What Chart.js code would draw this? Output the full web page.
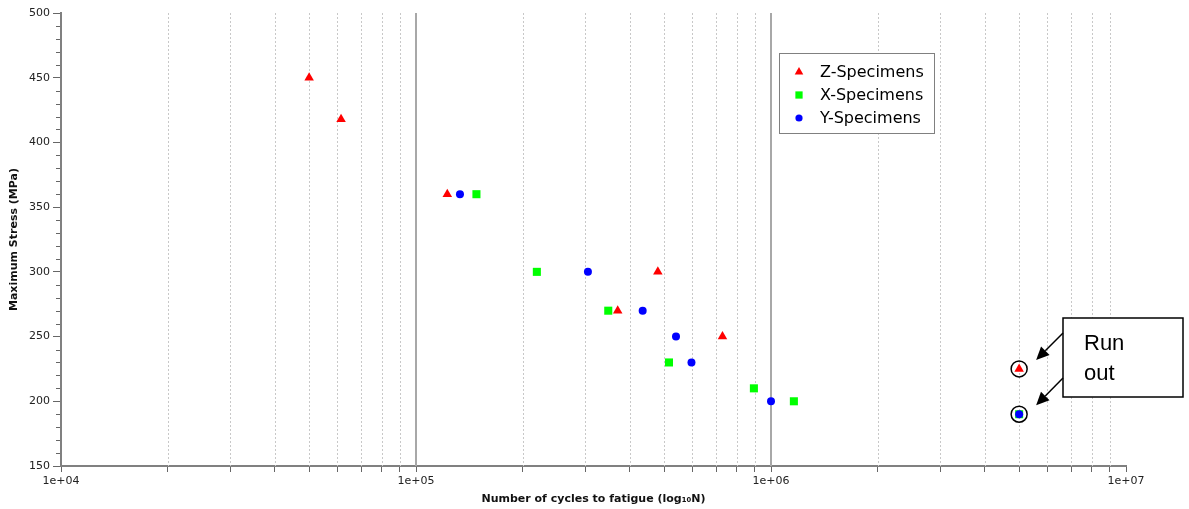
<!DOCTYPE html>
<html>
<head>
<meta charset="utf-8">
<script src="https://cdn.jsdelivr.net/npm/chart.js@4.4.0/dist/chart.umd.min.js"></script>
<style>
  html, body { margin: 0; padding: 0; background: #fff; }
</style>
</head>
<body>
<canvas id="chart" width="1189" height="509"></canvas>
<script>
// cycles to failure (N) and max stress (MPa) for each specimen direction
const zCycles = [5.0e4, 6.15e4, 1.225e5, 4.8e5, 3.7e5, 7.3e5, 5.0e6];
const zStress = [450, 418, 360, 300, 270, 250, 225];
const xCycles = [1.48e5, 2.19e5, 3.48e5, 5.16e5, 8.95e5, 1.16e6, 5.0e6];
const xStress = [360, 300, 270, 230, 210, 200, 190];
const yCycles = [1.33e5, 3.05e5, 4.35e5, 5.4e5, 5.97e5, 1.0e6, 5.0e6];
const yStress = [360, 300, 270, 250, 230, 200, 190];

// run-out specimens (circled)
const runOutCycles = [5.0e6, 5.0e6];
const runOutStress = [225, 190];

const seriesNames = ['Z-Specimens', 'X-Specimens', 'Y-Specimens'];
const decades = [1e4, 1e5, 1e6, 1e7];
const decadeLabels = ['1e+04', '1e+05', '1e+06', '1e+07'];
const minorSteps = [2, 3, 4, 5, 6, 7, 8, 9];
const runOutText = ['Run', 'out'];

const toPoints = (xs, ys) => xs.map((x, i) => ({ x: x, y: ys[i] }));

const xTicks = [];
decades.forEach((d, i) => {
  xTicks.push(d);
  if (i < decades.length - 1) minorSteps.forEach(m => xTicks.push(d * m));
});

const FONT = 'DejaVu Sans';

// vertical grid (dotted minors, solid decades) + short minor ticks on y
const gridPlugin = {
  id: 'sheetGrid',
  beforeDatasetsDraw(chart) {
    const { ctx, chartArea: a, scales: { x, y } } = chart;
    ctx.save();
    xTicks.forEach(v => {
      if (v === decades[0] || v === decades[decades.length - 1]) return;
      const px = Math.round(x.getPixelForValue(v));
      ctx.beginPath();
      if (decades.includes(v)) {
        ctx.strokeStyle = '#a8a8a8';
        ctx.lineWidth = 2;
        ctx.setLineDash([]);
        ctx.moveTo(px, a.top);
        ctx.lineTo(px, a.bottom);
      } else {
        ctx.strokeStyle = '#c8c8c8';
        ctx.lineWidth = 1;
        ctx.setLineDash([2, 2]);
        ctx.moveTo(px + 0.5, a.top);
        ctx.lineTo(px + 0.5, a.bottom);
      }
      ctx.stroke();
    });
    ctx.setLineDash([]);
    ctx.strokeStyle = '#666';
    ctx.lineWidth = 1;
    ctx.beginPath();
    y.ticks.forEach(t => {
      if (t.value % 50 !== 0) {
        const py = Math.round(y.getPixelForValue(t.value)) + 0.5;
        ctx.moveTo(a.left - 5, py);
        ctx.lineTo(a.left - 1, py);
      }
    });
    ctx.stroke();
    ctx.restore();
  }
};

function arrow(ctx, x1, y1, x2, y2) {
  const ang = Math.atan2(y2 - y1, x2 - x1);
  const len = 13, half = 6;
  const bx = x2 - Math.cos(ang) * len, by = y2 - Math.sin(ang) * len;
  ctx.beginPath();
  ctx.moveTo(x1, y1);
  ctx.lineTo(bx, by);
  ctx.stroke();
  ctx.beginPath();
  ctx.moveTo(x2, y2);
  ctx.lineTo(bx + Math.sin(ang) * half, by - Math.cos(ang) * half);
  ctx.lineTo(bx - Math.sin(ang) * half, by + Math.cos(ang) * half);
  ctx.closePath();
  ctx.fill();
}

// legend box inside the plot + "Run out" callout
const overlayPlugin = {
  id: 'overlay',
  afterDraw(chart) {
    const { ctx, scales: { x, y } } = chart;
    ctx.save();

    // legend
    const lg = { left: 779, top: 53, w: 155, h: 80 };
    ctx.fillStyle = '#fff';
    ctx.fillRect(lg.left, lg.top, lg.w, lg.h);
    ctx.strokeStyle = '#808080';
    ctx.lineWidth = 1;
    ctx.strokeRect(lg.left + 0.5, lg.top + 0.5, lg.w, lg.h);
    ctx.font = '16px ' + FONT;
    ctx.textBaseline = 'middle';
    for (let i = 0; i < seriesNames.length; i++) {
      const ds = chart.data.datasets[i];
      const rowY = lg.top + 19 + i * 23;
      ctx.fillStyle = ds.backgroundColor;
      Chart.helpers.drawPoint(ctx, { pointStyle: ds.pointStyle, radius: ds.pointRadius * 0.9, rotation: 0, borderWidth: 0 }, lg.left + 20, rowY);
      ctx.fillStyle = '#000';
      ctx.fillText(ds.label, lg.left + 41, rowY + 1);
    }

    // run-out callout
    const box = { left: 1063, top: 318, w: 120, h: 79 };
    ctx.fillStyle = '#fff';
    ctx.fillRect(box.left, box.top, box.w, box.h);
    ctx.strokeStyle = '#000';
    ctx.lineWidth = 1.5;
    ctx.strokeRect(box.left, box.top, box.w, box.h);
    ctx.fillStyle = '#000';
    ctx.font = '22px "Liberation Sans"';
    ctx.textBaseline = 'alphabetic';
    ctx.fillText(runOutText[0], box.left + 21, box.top + 32);
    ctx.fillText(runOutText[1], box.left + 21, box.top + 62);

    ctx.lineWidth = 1.5;
    runOutCycles.forEach((c, i) => {
      const px = x.getPixelForValue(c), py = y.getPixelForValue(runOutStress[i]);
      arrow(ctx, box.left, box.top + 15 + i * 45, px + 17, py - 9);
    });
    ctx.restore();
  }
};

new Chart(document.getElementById('chart'), {
  type: 'scatter',
  data: {
    datasets: [
      { label: seriesNames[0], data: toPoints(zCycles, zStress), pointStyle: 'triangle', pointRadius: 5.5,
        backgroundColor: '#ff0000', borderColor: '#ff0000', borderWidth: 0, order: 2 },
      { label: seriesNames[1], data: toPoints(xCycles, xStress), pointStyle: 'rect', pointRadius: 5.7,
        backgroundColor: '#00ff00', borderColor: '#00ff00', borderWidth: 0, order: 1 },
      { label: seriesNames[2], data: toPoints(yCycles, yStress), pointStyle: 'circle', pointRadius: 4,
        backgroundColor: '#0000ff', borderColor: '#0000ff', borderWidth: 0, order: 0 },
      { label: 'Run out', data: toPoints(runOutCycles, runOutStress), pointStyle: 'circle', pointRadius: 8,
        backgroundColor: 'rgba(0,0,0,0)', borderColor: '#000', borderWidth: 1.5, order: -1 }
    ]
  },
  options: {
    responsive: false,
    animation: false,
    devicePixelRatio: 1,
    layout: { padding: { top: 13, right: 63, left: 0, bottom: 0 } },
    plugins: { legend: { display: false }, tooltip: { enabled: false } },
    scales: {
      x: {
        type: 'logarithmic',
        position: 'bottom',
        min: 1e4,
        max: 1e7,
        afterBuildTicks: s => { s.ticks = xTicks.map(v => ({ value: v })); },
        afterFit: s => { s.height = 43; },
        ticks: {
          autoSkip: false, maxRotation: 0, padding: 3, color: '#222',
          font: { family: FONT, size: 11 },
          callback: v => { const i = decades.indexOf(v); return i >= 0 ? decadeLabels[i] : ''; }
        },
        grid: { drawOnChartArea: false, tickLength: 6, tickColor: '#666' },
        border: { color: '#808080', width: 2 },
        title: {
          display: true, text: 'Number of cycles to fatigue (log\u2081\u2080N)', color: '#111',
          font: { family: FONT, size: 11, weight: 'bold' }, padding: { top: 0, bottom: 3 }
        }
      },
      y: {
        min: 150,
        max: 500,
        afterFit: s => { s.width = 61; },
        ticks: {
          stepSize: 10, autoSkip: false, padding: 3, color: '#222',
          font: { family: FONT, size: 11 },
          callback: v => (v % 50 === 0 ? v : '')
        },
        grid: {
          drawOnChartArea: false, tickLength: 8,
          tickColor: c => (c.tick && c.tick.value % 50 === 0 ? '#666' : 'rgba(0,0,0,0)')
        },
        border: { color: '#808080', width: 2 },
        title: {
          display: true, text: 'Maximum Stress (MPa)', color: '#111',
          font: { family: FONT, size: 11, weight: 'bold' }, padding: { top: 8, bottom: 0 }
        }
      }
    }
  },
  plugins: [gridPlugin, overlayPlugin]
});
</script>
</body>
</html>
